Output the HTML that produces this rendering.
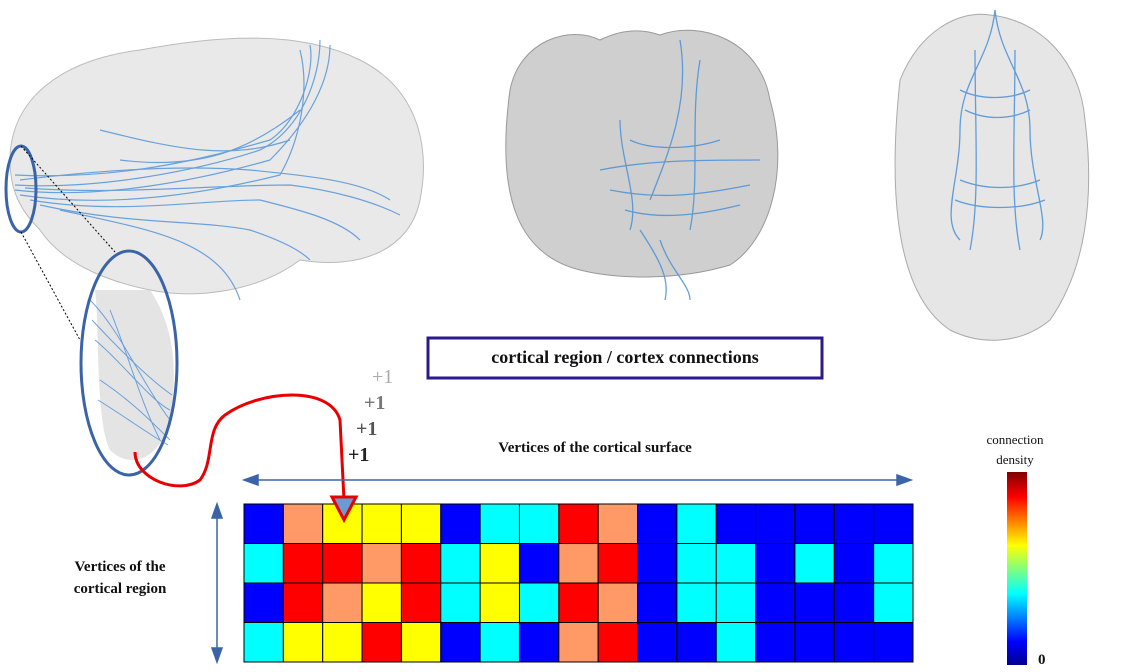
<!DOCTYPE html><html><head><style>
body{margin:0;background:#fff;width:1125px;height:672px;overflow:hidden;position:relative;font-family:"Liberation Serif",serif}
.t{position:absolute;font-weight:bold;color:#111;text-align:center}
</style></head><body>
<svg width="1125" height="672" style="position:absolute;left:0;top:0">
<defs><linearGradient id="jet" x1="0" y1="1" x2="0" y2="0">
<stop offset="0" stop-color="#00008f"/><stop offset="0.12" stop-color="#0000ff"/><stop offset="0.37" stop-color="#00ffff"/><stop offset="0.62" stop-color="#ffff00"/><stop offset="0.87" stop-color="#ff0000"/><stop offset="1" stop-color="#800000"/></linearGradient></defs>
<!-- sagittal brain -->
<path d="M10,160 C10,100 60,60 140,50 C220,35 300,30 360,60 C420,90 430,150 420,200 C410,250 360,270 300,260 C260,290 200,300 150,290 C100,280 60,260 40,230 C20,210 10,190 10,160Z" fill="#e9e9e9" stroke="#bbb"/>
<g stroke="#4a90d9" fill="none" stroke-width="1.2" opacity="0.8">
<path d="M15,185 C100,190 200,170 260,150 C300,130 320,80 320,40"/>
<path d="M15,190 C100,200 200,180 270,160 C310,120 330,80 330,45"/>
<path d="M20,195 C120,210 220,190 280,175 C300,140 310,90 300,50"/>
<path d="M20,180 C100,170 180,165 250,170 C300,175 360,180 390,200"/>
<path d="M30,200 C120,215 200,200 260,200 C300,210 340,220 360,240"/>
<path d="M60,210 C150,230 220,240 240,300"/>
<path d="M100,130 C180,150 230,160 290,140"/>
<path d="M15,175 C120,180 200,160 270,140 C300,120 315,70 310,45"/>
<path d="M25,188 C120,195 210,185 290,185 C330,190 370,200 400,215"/>
<path d="M40,205 C130,225 200,220 250,230 C280,240 300,250 310,260"/>
<path d="M120,160 C200,170 250,150 300,110"/>
</g>
<!-- coronal -->
<path d="M510,90 C520,40 570,25 600,40 C620,30 640,28 660,35 C700,20 760,40 770,100 C790,170 770,240 730,265 C680,280 620,280 580,270 C520,255 495,200 510,90Z" fill="#cfcfcf" stroke="#999"/>
<g stroke="#4a90d9" fill="none" stroke-width="1.3" opacity="0.85">
<path d="M620,120 C620,160 640,200 630,230"/><path d="M700,60 C690,120 700,180 690,230"/>
<path d="M600,170 C650,160 700,160 760,160"/><path d="M610,190 C660,200 700,195 750,185"/>
<path d="M640,230 C660,260 670,280 665,300"/><path d="M680,40 C690,100 670,150 650,200"/>
<path d="M630,140 C650,150 690,150 720,140"/><path d="M625,210 C660,220 700,215 740,205"/>
<path d="M660,240 C670,270 690,285 690,300"/>
</g>
<!-- axial -->
<path d="M900,80 C920,30 960,10 990,15 C1040,20 1080,60 1085,120 C1095,200 1085,270 1050,320 C1020,345 980,345 950,330 C905,300 885,220 900,80Z" fill="#e6e6e6" stroke="#aaa"/>
<g stroke="#4a90d9" fill="none" stroke-width="1.3" opacity="0.85">
<path d="M995,10 C990,60 960,80 960,130 C960,180 940,220 960,240"/>
<path d="M995,10 C1000,60 1030,80 1030,130 C1030,180 1050,220 1040,240"/>
<path d="M960,90 C980,100 1010,100 1030,90"/><path d="M955,200 C980,210 1020,210 1045,200"/>
<path d="M975,50 C975,130 980,200 970,250"/><path d="M1015,50 C1015,130 1010,200 1020,250"/>
<path d="M965,110 C985,120 1010,120 1030,110"/><path d="M960,180 C985,190 1015,190 1040,180"/>
</g>
<!-- zoom ellipses -->
<ellipse cx="21" cy="189" rx="15" ry="43" fill="none" stroke="#3b64a8" stroke-width="3"/>
<path d="M95,290 C100,330 95,420 110,450 C130,470 160,460 170,420 C180,360 170,320 150,290Z" fill="#ddd" opacity="0.8"/>
<g stroke="#4a90d9" fill="none" stroke-width="1" opacity="0.8">
<path d="M90,300 C120,330 140,380 170,420"/><path d="M95,340 C120,360 150,400 170,410"/><path d="M100,380 C130,400 150,420 170,440"/><path d="M110,310 C130,360 140,400 160,440"/>
<path d="M92,320 C120,350 150,380 172,395"/><path d="M98,400 C130,420 150,435 168,445"/>
</g>
<ellipse cx="129" cy="363" rx="48" ry="112" fill="none" stroke="#3b64a8" stroke-width="3"/>
<line x1="21" y1="146" x2="115" y2="252" stroke="#000" stroke-dasharray="2,2"/>
<line x1="21" y1="232" x2="80" y2="340" stroke="#000" stroke-dasharray="2,2"/>
<!-- red curve -->
<path d="M135,452 C135,480 180,495 200,480 C215,460 205,430 225,415 C260,390 330,385 340,420 L344,500" fill="none" stroke="#e80000" stroke-width="3"/>
<!-- arrows -->
<g stroke="#3b64a8" stroke-width="1.5" fill="#3b64a8">
<line x1="250" y1="480" x2="905" y2="480"/><polygon points="244,480 258,475 258,485"/><polygon points="911,480 897,475 897,485"/>
<line x1="217" y1="510" x2="217" y2="656"/><polygon points="217,504 212,518 222,518"/><polygon points="217,662 212,648 222,648"/>
</g>
<rect x="428" y="338" width="394" height="40" fill="#fff" stroke="#2a1a8a" stroke-width="3"/>
<rect x="1007" y="472" width="20" height="193" fill="url(#jet)"/>
<g id="grid"></g>
<polygon id="tri" points="332,497 356,497 344,520" fill="#6b9bd1" stroke="#e80000" stroke-width="3"/>
</svg>
<div class="t" style="left:428px;top:347px;width:394px;font-size:18px">cortical region / cortex connections</div>
<div class="t" style="left:372px;top:366px;font-size:20px;color:#aaa;font-weight:normal">+1</div>
<div class="t" style="left:364px;top:392px;font-size:20px;color:#777">+1</div>
<div class="t" style="left:356px;top:418px;font-size:20px;color:#555">+1</div>
<div class="t" style="left:348px;top:444px;font-size:20px;color:#222">+1</div>
<div class="t" style="left:400px;top:440px;width:390px;font-size:15px">Vertices of the cortical surface</div>
<div class="t" style="left:40px;top:556px;width:160px;font-size:15px;line-height:22px">Vertices of the<br>cortical region</div>
<div class="t" style="left:960px;top:430px;width:110px;font-size:13px;font-weight:normal;line-height:20px">connection<br>density</div>
<div class="t" style="left:1038px;top:652px;font-size:15px">0</div>
<script>
var B='#0000ff',S='#ff9966',Y='#ffff00',C='#00ffff',R='#ff0000';
var rows=[[B,S,Y,Y,Y,B,C,C,R,S,B,C,B,B,B,B,B],[C,R,R,S,R,C,Y,B,S,R,B,C,C,B,C,B,C],[B,R,S,Y,R,C,Y,C,R,S,B,C,C,B,B,B,C],[C,Y,Y,R,Y,B,C,B,S,R,B,B,C,B,B,B,B]];
var g=document.getElementById('grid'),h='',w=(913-244)/17,hh=(662-504)/4;
rows.forEach(function(r,i){r.forEach(function(c,j){h+='<rect x="'+(244+j*w)+'" y="'+(504+i*hh)+'" width="'+w+'" height="'+hh+'" fill="'+c+'" stroke="#000" stroke-width="1"/>';});});
g.innerHTML=h;
</script>
</body></html>
